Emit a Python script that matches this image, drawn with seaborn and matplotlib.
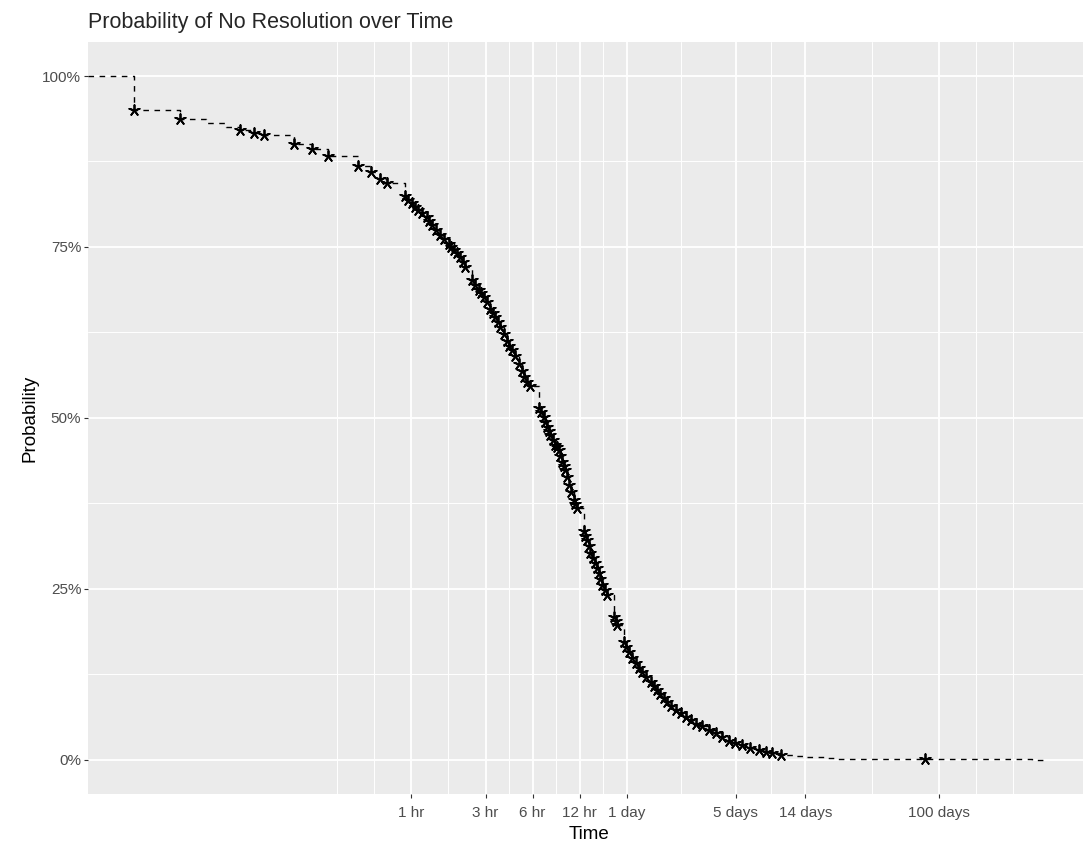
import matplotlib
matplotlib.use("Agg")
import matplotlib.pyplot as plt
import matplotlib.ticker as mticker
import numpy as np
import pandas as pd
import seaborn as sns

# Kaplan-Meier style estimate (time in hours)
hours = [0.0167, 0.0329, 0.0487, 0.0654, 0.0806, 0.0982, 0.1139, 0.1774, 0.2301, 0.2945,
         0.4589, 0.5503, 0.6324, 0.6972, 0.9152, 0.96, 1.009, 1.06, 1.114, 1.18,
         1.259, 1.30, 1.356, 1.44, 1.535, 1.63, 1.735, 1.80, 1.868, 1.96,
         2.063, 2.14, 2.222, 2.449, 2.57, 2.704, 2.80, 2.911, 3.06, 3.214,
         3.33, 3.461, 3.59, 3.726, 3.91, 4.108, 4.26, 4.424, 4.651, 4.88,
         5.128, 5.32, 5.522, 5.805, 6.562, 6.80, 7.066, 7.24, 7.417, 7.60,
         7.802, 8.10, 8.400, 8.60, 8.821, 9.04, 9.262, 9.50, 9.737, 9.98,
         10.22, 10.6, 11.01, 11.3, 11.56, 12.76, 13.08, 13.40, 13.75, 14.09,
         14.6, 15.17, 15.55, 15.93, 16.3, 16.73, 17.35, 18.01, 19.89, 20.4,
         20.87, 23.05, 23.9, 24.81, 26.0, 27.40, 28.8, 30.21, 32.1, 34.20,
         35.9, 37.71, 39.6, 41.65, 43.8, 45.96, 49.5, 53.30, 57.4, 61.77,
         67.3, 73.33, 81.0, 89.4, 98.6, 108.8, 119.0, 130.9, 148.0, 169.5,
         187.1, 206.3, 233.6, 284.4, 329.6, 465.1, 513.5, 1971, 9579, 11440]
surv = [0.951, 0.937, 0.932, 0.925, 0.921, 0.917, 0.913, 0.900, 0.893, 0.883,
        0.868, 0.859, 0.849, 0.844, 0.824, 0.819, 0.814, 0.809, 0.804, 0.799,
        0.794, 0.788, 0.782, 0.775, 0.768, 0.762, 0.755, 0.750, 0.746, 0.741,
        0.736, 0.728, 0.721, 0.702, 0.695, 0.687, 0.682, 0.677, 0.669, 0.660,
        0.654, 0.648, 0.640, 0.633, 0.622, 0.612, 0.605, 0.599, 0.590, 0.579,
        0.568, 0.560, 0.553, 0.546, 0.514, 0.508, 0.502, 0.494, 0.487, 0.481,
        0.475, 0.468, 0.461, 0.457, 0.453, 0.444, 0.436, 0.430, 0.424, 0.413,
        0.402, 0.391, 0.380, 0.374, 0.368, 0.334, 0.328, 0.322, 0.312, 0.302,
        0.295, 0.288, 0.281, 0.273, 0.265, 0.256, 0.249, 0.241, 0.209, 0.203,
        0.197, 0.173, 0.165, 0.157, 0.149, 0.141, 0.135, 0.129, 0.121, 0.114,
        0.108, 0.102, 0.096, 0.090, 0.084, 0.078, 0.073, 0.068, 0.063, 0.058,
        0.053, 0.049, 0.044, 0.039, 0.033, 0.027, 0.024, 0.021, 0.018, 0.0146,
        0.012, 0.0098, 0.0073, 0.0058, 0.0040, 0.0025, 0.0015, 0.0015, 0.0, 0.0]
# steps without a star
unmarked = [0.0487, 0.0654, 284.4, 329.6, 465.1, 513.5, 9579, 11440]

break_hours = [1, 3, 6, 12, 24, 120, 336, 2400]
break_labels = ['1 hr', '3 hr', '6 hr', '12 hr', '1 day', '5 days', '14 days', '100 days']
prob_breaks = [0, 0.25, 0.5, 0.75, 1.0]
prob_labels = ['0%', '25%', '50%', '75%', '100%']

sns.set_theme(style='darkgrid', rc={'axes.facecolor': '#EBEBEB', 'figure.facecolor': 'white'})
plt.rcParams['font.family'] = ['Liberation Sans', 'DejaVu Sans']

fig = plt.figure(figsize=(10.83, 8.43), dpi=100)
ax = fig.add_axes([0.0815, 0.0581, 0.925, 0.8923])
ax.set_xscale('log')

# ggplot-like 5% expansion on the log axis
lo, hi = np.log10(min(hours)), np.log10(max(hours))
pad = 0.05 * (hi - lo)
xmin, xmax = 10 ** (lo - pad), 10 ** (hi + pad)

curve = pd.DataFrame({'hours': [xmin] + hours, 'surv': [1.0] + surv})
sns.lineplot(data=curve, x='hours', y='surv', drawstyle='steps-post', color='black',
             linewidth=1.0, linestyle=(0, (4, 4)), estimator=None, sort=False, ax=ax)

marks = pd.DataFrame({'hours': hours, 'surv': surv})
marks = marks[~marks['hours'].isin(unmarked)]
sns.scatterplot(data=marks, x='hours', y='surv', marker=(5, 2, 0), s=60, color='black',
                linewidth=1.3, ax=ax, zorder=3)

# grid: major at the breaks, minor like ggplot's regular_minor_breaks
logs = np.log10(break_hours)
bd = logs[1] - logs[0]
ext = np.concatenate([[logs[0] - bd], logs, [logs[-1] + bd]])
minor_x = np.concatenate([(ext[:-1] + ext[1:]) / 2, [ext[0], ext[-1]]])
ax.xaxis.set_major_locator(mticker.FixedLocator(break_hours))
ax.xaxis.set_major_formatter(mticker.FixedFormatter(break_labels))
ax.xaxis.set_minor_locator(mticker.FixedLocator(10 ** minor_x))
ax.xaxis.set_minor_formatter(mticker.NullFormatter())
ax.set_yticks(prob_breaks)
ax.set_yticklabels(prob_labels)
ax.set_yticks([0.125, 0.375, 0.625, 0.875], minor=True)

ax.set_xlim(xmin, xmax)
ax.set_ylim(-0.05, 1.05)
ax.grid(which='major', color='white', linewidth=1.3)
ax.grid(which='minor', color='white', linewidth=0.7)
for s in ax.spines.values():
    s.set_visible(False)
ax.tick_params(which='major', length=3, width=0.8, color='#333333', labelcolor='#4D4D4D',
               labelsize=11, pad=2, bottom=True, left=True)
ax.tick_params(axis='x', which='major', pad=5.5)
ax.tick_params(which='minor', length=0)

ax.set_xlabel('Time', fontsize=13.5, color='black', labelpad=4.5)
ax.set_ylabel('Probability', fontsize=13.5, color='black', labelpad=3)
ax.set_title('Probability of No Resolution over Time', loc='left', fontsize=15.5, pad=10)

fig.savefig('out.png', dpi=100)
